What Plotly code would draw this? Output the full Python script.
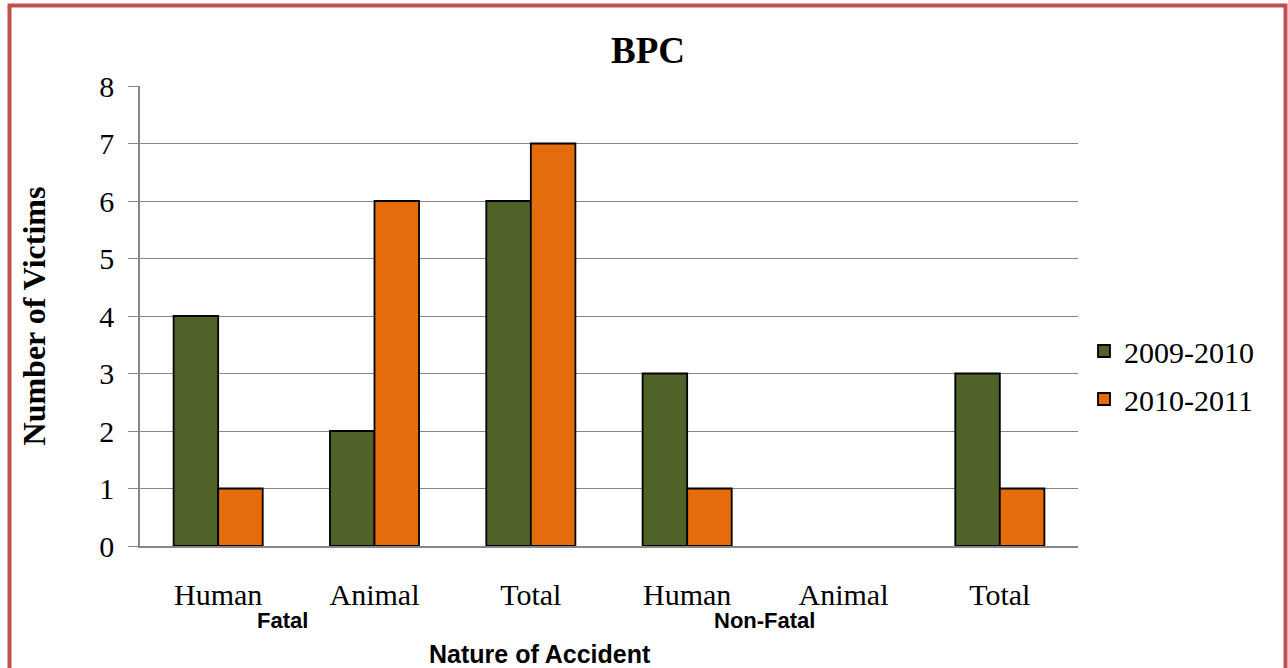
import plotly.graph_objects as go

categories = ["Human", "Animal", "Total", "Human", "Animal", "Total"]
groups = ["Fatal", "Non-Fatal"]
series_names = ["2009-2010", "2010-2011"]
values_2009 = [4, 2, 6, 3, 0, 3]
values_2010 = [1, 6, 7, 1, 0, 1]
colors = ["#4F6228", "#E46C0A"]

L, R, T, B = 140, 210, 86, 122
W, H = 1288, 668
PW, PH = W - L - R, H - T - B

def px(x):
    return (x - L) / PW

def py(y):
    return (H - B - y) / PH

xs = list(range(len(categories)))
fig = go.Figure()
for i, (name, vals, col) in enumerate(zip(series_names, [values_2009, values_2010], colors)):
    fig.add_trace(go.Bar(
        x=xs, y=vals, name=name, legendgroup="g%d" % i,
        marker=dict(color=col, line=dict(color="black", width=[1.8 if v > 0 else 0 for v in vals]))))

serif = "Liberation Serif, Times New Roman, serif"
sans = "Liberation Sans, Arial, sans-serif"

fig.update_layout(
    width=W, height=H,
    margin=dict(l=L, r=R, t=T, b=B),
    paper_bgcolor="white", plot_bgcolor="white",
    barmode="group", bargap=0.43, bargroupgap=0,
    title=dict(text="<b>BPC</b>", x=648 / W, xanchor="center", y=1 - 50 / H, yanchor="middle",
               font=dict(family=serif, size=37, color="black")),
    legend=dict(x=px(1084), y=py(375), xanchor="left", yanchor="middle",
                font=dict(family=serif, size=30, color="black"), traceorder="grouped", tracegroupgap=6,
                itemwidth=30, bgcolor="rgba(0,0,0,0)"),
    xaxis=dict(tickmode="array", tickvals=xs, ticktext=categories, range=[-0.5, len(xs) - 0.5],
               showgrid=False, showline=True, linecolor="#868686", linewidth=1.5,
               ticks="", ticklabelstandoff=21,
               tickfont=dict(family=serif, size=30, color="black")),
    yaxis=dict(range=[0, 8], dtick=1, showgrid=True, gridcolor="#868686", gridwidth=1.2,
               showline=True, linecolor="#868686", linewidth=1.5, ticks="outside", ticklen=10,
               tickcolor="#868686", tickwidth=1.2, ticklabelstandoff=8, zeroline=False,
               tickfont=dict(family=serif, size=30, color="black"),
               title=dict(text="<b>Number of Victims</b>", standoff=44,
                          font=dict(family=serif, size=32, color="black"))),
)

fig.add_annotation(text="<b>" + groups[0] + "</b>", x=px(282), y=py(620), xref="paper", yref="paper",
                   xanchor="center", yanchor="middle",
                   showarrow=False, font=dict(family=sans, size=22, color="black"))
fig.add_annotation(text="<b>" + groups[1] + "</b>", x=px(764), y=py(620), xref="paper", yref="paper",
                   xanchor="center", yanchor="middle",
                   showarrow=False, font=dict(family=sans, size=22, color="black"))
fig.add_annotation(text="<b>Nature of Accident</b>", x=px(540), y=py(654), xref="paper", yref="paper",
                   xanchor="center", yanchor="middle",
                   showarrow=False, font=dict(family=sans, size=25, color="black"))

fig.add_shape(type="rect", xref="paper", yref="paper",
              x0=px(9.5), x1=px(1285.5), y0=py(5.5), y1=py(720),
              line=dict(color="#C0504D", width=4), fillcolor="rgba(0,0,0,0)", layer="below")

fig.write_html("out.html", config={"displayModeBar": False},
               post_script="document.body.style.margin='0px';document.body.style.overflow='hidden';")
